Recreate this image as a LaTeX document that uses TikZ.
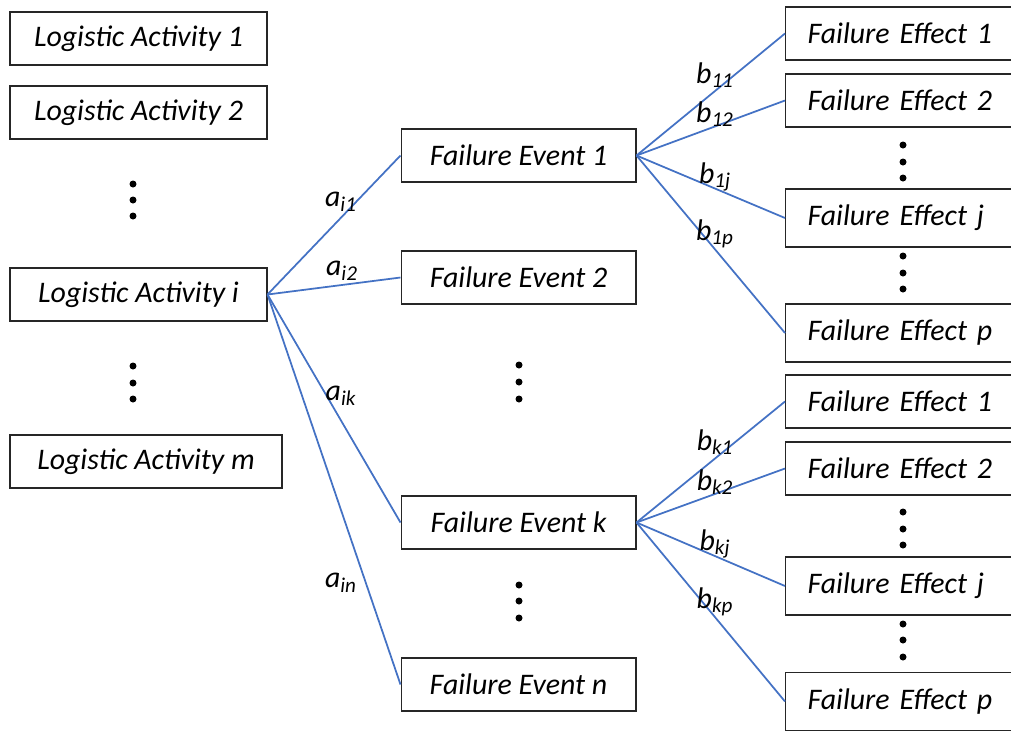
\documentclass[tikz,border=0pt]{standalone}
\usepackage{fontspec}
\setmainfont{Carlito}
\definecolor{linkblue}{RGB}{68,114,196}
\newcommand{\idx}[2]{#1\textsubscript{\fontsize{12}{12}\selectfont #2}}
\begin{document}
\begin{tikzpicture}
		[x=0.02cm, y=-0.02cm,
		box/.style={draw=black!85, line width=0.6pt, minimum height=1.06cm,
			inner sep=0pt, font=\fontsize{17}{19}\selectfont\itshape},
		activity/.style={box, minimum width=5.14cm},
		event/.style={box, minimum width=4.7cm},
		effect/.style={box, anchor=west, text width=4.4cm, align=left,
			inner xsep=0.44cm},
		link/.style={draw=linkblue, line width=1pt},
		lbl/.style={inner sep=0pt, font=\fontsize{17}{19}\selectfont\itshape}]
		\clip (0,0) rectangle (1011,731);
		% logistic activities
		\node[activity] (act1) at (138.5,38.5) {Logistic Activity 1};
		\node[activity] (act2) at (138.5,112.5) {Logistic Activity 2};
		\node[activity] (acti) at (138.5,294.5) {Logistic Activity i};
		\node[activity, minimum width=5.44cm] (actm) at (146,461.5) {Logistic Activity m};
		% failure events
		\node[event] (ev1) at (518.5,155.5) {Failure Event 1};
		\node[event] (ev2) at (518.5,277.5) {Failure Event 2};
		\node[event] (evk) at (518.5,522.5) {Failure Event k};
		\node[event] (evn) at (518.5,684.5) {Failure Event n};
		% failure effects
		\node[effect] (ef11) at (785,33.5) {Failure Effect 1};
		\node[effect] (ef12) at (785,100.5) {Failure Effect 2};
		\node[effect, minimum height=1.16cm] (ef1j) at (785,218) {Failure Effect j};
		\node[effect, minimum height=1.16cm] (ef1p) at (785,333) {Failure Effect p};
		\node[effect] (efk1) at (785,401.5) {Failure Effect 1};
		\node[effect] (efk2) at (785,468.5) {Failure Effect 2};
		\node[effect, minimum height=1.16cm] (efkj) at (785,586) {Failure Effect j};
		\node[effect, minimum height=1.16cm] (efkp) at (785,701.5) {Failure Effect p};
		% connectors
		\foreach \e in {ev1,ev2,evk,evn}
			\draw[link] (acti.east) -- (\e.west);
		\foreach \f in {ef11,ef12,ef1j,ef1p}
			\draw[link] (ev1.east) -- (\f.west);
		\foreach \f in {efk1,efk2,efkj,efkp}
			\draw[link] (evk.east) -- (\f.west);
		% weights
		\node[lbl] (ai1) at (341,202) {\idx{a}{i1}};
		\node[lbl] (ai2) at (342,271) {\idx{a}{i2}};
		\node[lbl] (aik) at (341,396) {\idx{a}{ik}};
		\node[lbl] (ain) at (341,583) {\idx{a}{in}};
		\node[lbl] (b11) at (715,75) {\idx{b}{11}};
		\node[lbl] (b12) at (715,114) {\idx{b}{12}};
		\node[lbl] (b1j) at (715,177) {\idx{b}{1j}};
		\node[lbl] (b1p) at (715,234) {\idx{b}{1p}};
		\node[lbl] (bk1) at (715,442) {\idx{b}{k1}};
		\node[lbl] (bk2) at (715,482) {\idx{b}{k2}};
		\node[lbl] (bkj) at (715,544) {\idx{b}{kj}};
		\node[lbl] (bkp) at (715,602) {\idx{b}{kp}};
		% vertical dots
		\foreach \x/\y in {133/184,133/200,133/216,133/366,133/383,133/399,
			519/365,519/382,519/399,519/585,519/601,519/618,
			903/145,903/162,903/178,903/256,903/273,903/289,
			903/512,903/529,903/545,903/624,903/640,903/657}
			\fill (\x,\y) circle (0.07cm);
	\end{tikzpicture}
\end{document}
